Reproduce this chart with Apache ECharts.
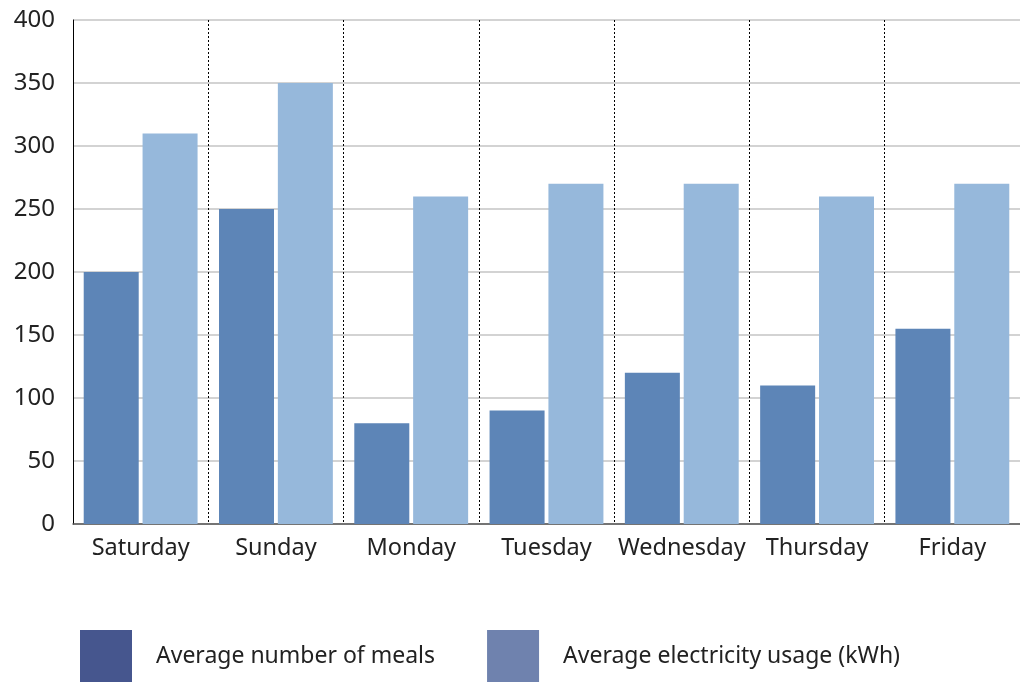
<!DOCTYPE html>
<html><head><meta charset="utf-8">
<script src="https://cdn.jsdelivr.net/npm/echarts@6/dist/echarts.min.js"></script>
<style>html,body{margin:0;padding:0;background:#fff}#c{width:1020px;height:682px}</style>
</head><body><div id="c"></div>
<script>
const categories = ['Saturday','Sunday','Monday','Tuesday','Wednesday','Thursday','Friday'];
const meals = [200, 250, 80, 90, 120, 110, 155];
const electricity = [310, 350, 260, 270, 270, 260, 270];
const seriesNames = ['Average number of meals','Average electricity usage (kWh)'];
const yTicks = {min: 0, max: 400, interval: 50};

const chart = echarts.init(document.getElementById('c'));
const font = '"Noto Sans", sans-serif';
chart.setOption({
  animation: false,
  grid: {left: 73, width: 952, top: 20, bottom: 158},
  legend: {
    left: 80, top: 630, padding: 0,
    itemWidth: 52, itemHeight: 52, itemGap: 52,
    icon: 'rect',
    textStyle: {fontFamily: font, fontSize: 23, color: '#222', padding: [0,0,0,19]},
    data: [
      {name: seriesNames[0], itemStyle: {color: '#46568e'}},
      {name: seriesNames[1], itemStyle: {color: '#6f82ae'}}
    ]
  },
  xAxis: {
    type: 'category', data: categories,
    axisLine: {lineStyle: {color: '#555', width: 1.5}},
    axisTick: {show: false},
    axisLabel: {fontFamily: font, fontSize: 23.5, color: '#222', margin: 12, interval: 0},
    splitLine: {show: true, interval: 0, lineStyle: {color: '#000', type: [2, 2], width: 1}}
  },
  yAxis: {
    type: 'value', min: yTicks.min, max: yTicks.max, interval: yTicks.interval,
    axisLine: {show: true, lineStyle: {color: '#000', width: 1}},
    axisTick: {show: false},
    axisLabel: {fontFamily: font, fontSize: 24, color: '#222', margin: 18},
    splitLine: {lineStyle: {color: '#c4c4c4', width: 1.5}}
  },
  series: [
    {name: seriesNames[0], type: 'bar', data: meals, barWidth: 55, barGap: '7%',
     itemStyle: {color: '#5d85b7'}},
    {name: seriesNames[1], type: 'bar', data: electricity, barWidth: 55,
     itemStyle: {color: '#96b8db'}}
  ]
});
</script></body></html>
